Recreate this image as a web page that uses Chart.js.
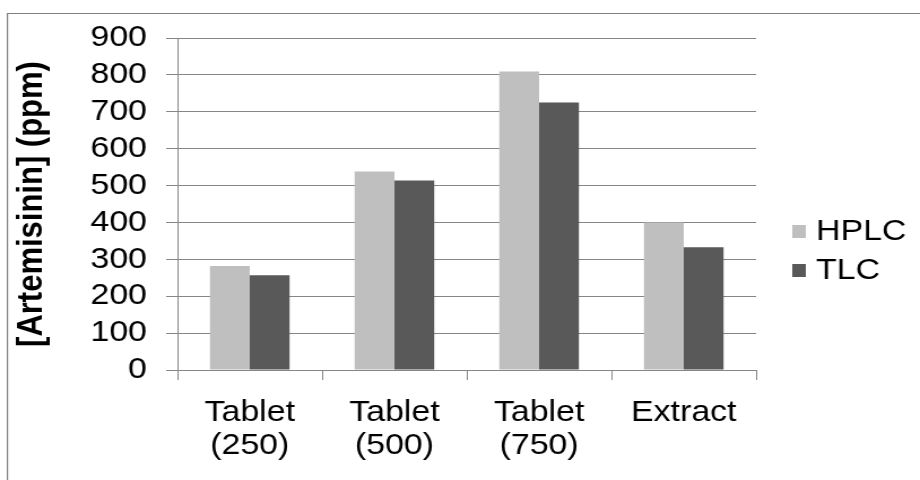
<!DOCTYPE html>
<html>
<head>
<meta charset="utf-8">
<script src="https://cdn.jsdelivr.net/npm/chart.js@4.4.1/dist/chart.umd.min.js"></script>
<style>
  html, body { margin: 0; padding: 0; background: #ffffff; overflow: hidden; }
  #wrap {
    width: 814px; height: 480px;
    transform: scaleX(1.1302); transform-origin: 0 0;
  }
  canvas { display: block; }
</style>
</head>
<body>
<div id="wrap"><canvas id="c" width="814" height="480"></canvas></div>
<script>
// Artemisinin content measured by two methods
const categories = [['Tablet', '(250)'], ['Tablet', '(500)'], ['Tablet', '(750)'], ['Extract']];
const seriesNames = ['HPLC', 'TLC'];
const hplcValues = [282, 538, 809, 400];
const tlcValues = [257, 514, 725, 333];
const seriesColors = ['#bfbfbf', '#595959'];
const yTicksMin = 0;
const yTicksMax = 900;
const yTicksStep = 100;

const FONT = '"Liberation Sans", Arial, sans-serif';
const GRID = '#868686';

// Frame around the chart and a side legend built from the datasets
const framePlugin = {
  id: 'frame',
  beforeDraw(chart) {
    const ctx = chart.ctx;
    ctx.save();
    ctx.fillStyle = '#ffffff';
    ctx.fillRect(0, 0, chart.width, chart.height);
    ctx.strokeStyle = '#808080';
    ctx.lineWidth = 1.2;
    ctx.beginPath();
    ctx.moveTo(6.6, chart.height);
    ctx.lineTo(6.6, 13.5);
    ctx.lineTo(chart.width, 13.5);
    ctx.stroke();
    ctx.restore();
  },
  afterDraw(chart) {
    const ctx = chart.ctx;
    const x0 = chart.chartArea.right + 32;
    const yStart = 231;
    const gap = 39;
    ctx.save();
    ctx.font = '30px ' + FONT;
    ctx.textBaseline = 'middle';
    ctx.textAlign = 'left';
    chart.data.datasets.forEach((ds, i) => {
      const y = yStart + i * gap;
      ctx.fillStyle = ds.backgroundColor;
      ctx.fillRect(x0, y - 6, 12, 13);
      ctx.fillStyle = '#000000';
      ctx.fillText(ds.label, x0 + 21, y + 1);
    });
    ctx.restore();
  }
};

new Chart(document.getElementById('c'), {
  type: 'bar',
  data: {
    labels: categories,
    datasets: [
      { label: seriesNames[0], data: hplcValues, backgroundColor: seriesColors[0] },
      { label: seriesNames[1], data: tlcValues, backgroundColor: seriesColors[1] }
    ]
  },
  options: {
    responsive: false,
    animation: false,
    devicePixelRatio: 1,
    layout: { padding: { top: 38, right: 145, bottom: 0, left: 0 } },
    datasets: {
      bar: { categoryPercentage: 0.55, barPercentage: 1.0, borderWidth: 0 }
    },
    plugins: {
      legend: { display: false },
      tooltip: { enabled: false }
    },
    scales: {
      x: {
        grid: {
          display: true, drawOnChartArea: false, drawTicks: true,
          tickLength: 10, color: GRID, lineWidth: 1, offset: true
        },
        border: { display: true, color: GRID, width: 1 },
        ticks: {
          color: '#000000', padding: 16,
          font: { family: FONT, size: 30, lineHeight: 1.1 },
          maxRotation: 0, autoSkip: false
        },
        afterFit(scale) { scale.height = 110; }
      },
      y: {
        min: yTicksMin, max: yTicksMax,
        grid: { color: GRID, lineWidth: 1, tickLength: 10, drawTicks: true },
        border: { display: true, color: GRID, width: 1 },
        ticks: {
          stepSize: yTicksStep, color: '#000000', padding: 17,
          autoSkip: false,
          font: { family: FONT, size: 30, lineHeight: 1.0 }
        },
        title: {
          display: true, text: '[Artemisinin] (ppm)', color: '#000000',
          font: { family: FONT, size: 31, weight: 'bold' },
          padding: { top: 10, bottom: 0 }
        },
        afterFit(scale) { scale.width = 157; }
      }
    }
  },
  plugins: [framePlugin]
});
</script>
</body>
</html>
